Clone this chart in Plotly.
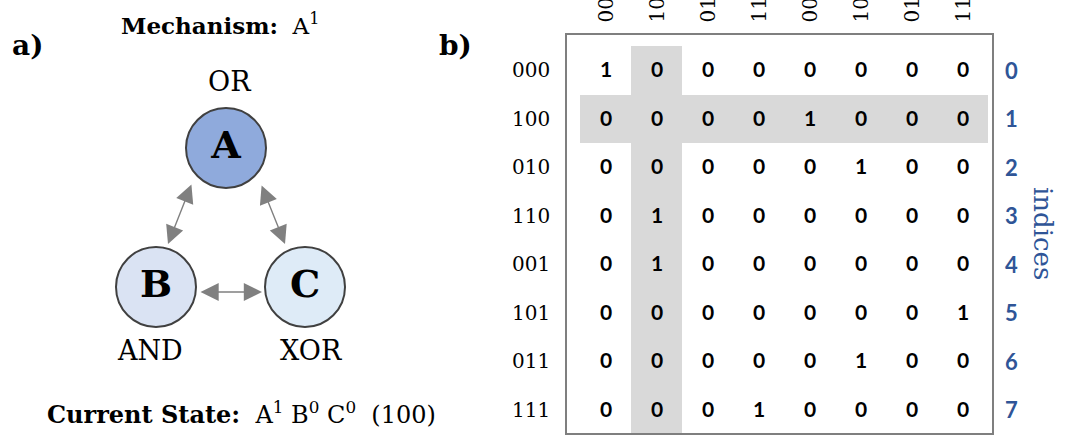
import plotly.graph_objects as go

# ---- data ----------------------------------------------------------------
states = ["000", "100", "010", "110", "001", "101", "011", "111"]
indices = ["0", "1", "2", "3", "4", "5", "6", "7"]
current_state = "100"
tpm = [
    [1, 0, 0, 0, 0, 0, 0, 0],
    [0, 0, 0, 0, 1, 0, 0, 0],
    [0, 0, 0, 0, 0, 1, 0, 0],
    [0, 1, 0, 0, 0, 0, 0, 0],
    [0, 1, 0, 0, 0, 0, 0, 0],
    [0, 0, 0, 0, 0, 0, 0, 1],
    [0, 0, 0, 0, 0, 1, 0, 0],
    [0, 0, 0, 1, 0, 0, 0, 0],
]
node_names = ["A", "B", "C"]
node_gates = ["OR", "AND", "XOR"]
node_colors = ["#8faadc", "#dae3f3", "#deebf7"]

W, H = 1076, 436
SERIF = "DejaVu Serif"
SANS = "Lato"
BLUE = "#2f5597"

n = len(states)
pos = list(range(n))
cur = states.index(current_state)
highlight = [[1 if (r == cur or c == cur) else 0 for c in pos] for r in pos]

fig = go.Figure()

# ---- panel b: transition matrix -------------------------------------------
fig.add_trace(go.Heatmap(
    x=pos, y=pos, z=highlight,
    text=[[str(v) for v in row] for row in tpm],
    texttemplate="%{text}",
    textfont=dict(family=SANS, size=21, color="black", weight="bold"),
    colorscale=[[0, "white"], [1, "#d9d9d9"]],
    zmin=0, zmax=1, showscale=False, hoverinfo="skip",
    xaxis="x", yaxis="y",
))

# ---- panel a: network nodes (pixel-space overlay axes) --------------------
node_px = {"A": (226, 148), "B": (156, 287), "C": (305, 287)}
gate_px = {"A": (229, 81), "B": (150, 350), "C": (311, 350)}
fig.add_trace(go.Scatter(
    x=[node_px[k][0] for k in node_names],
    y=[node_px[k][1] for k in node_names],
    mode="markers+text",
    text=node_names,
    textposition="middle center",
    textfont=dict(family=SERIF, size=38, color="black", weight="bold"),
    marker=dict(size=80, color=node_colors, line=dict(color="#404040", width=2)),
    hoverinfo="skip", cliponaxis=False,
    xaxis="x2", yaxis="y2",
))

ann = []
# gate labels
for k, g in zip(node_names, node_gates):
    gx, gy = gate_px[k]
    ann.append(dict(x=gx, y=gy, xref="x2", yref="y2", text=g, showarrow=False,
                    font=dict(family=SERIF, size=27, color="black")))

# bidirectional connections
edges = [((192, 183), (168, 244)), ((261, 184), (285, 244)), ((199, 292), (262, 292))]
for (x0, y0), (x1, y1) in edges:
    ann.append(dict(x=x1, y=y1, ax=x0, ay=y0, xref="x2", yref="y2",
                    axref="x2", ayref="y2", text="", showarrow=True,
                    arrowhead=2, startarrowhead=2, arrowside="end+start",
                    arrowsize=2.6, startarrowsize=2.6, arrowwidth=1.4,
                    arrowcolor="#808080", standoff=0, startstandoff=0))

# panel letters and captions
ann += [
    dict(x=27, y=45, xref="x2", yref="y2", text="<b>a)</b>", showarrow=False,
         font=dict(family=SERIF, size=28, color="black")),
    dict(x=455, y=45, xref="x2", yref="y2", text="<b>b)</b>", showarrow=False,
         font=dict(family=SERIF, size=28, color="black")),
    dict(x=220, y=24, xref="x2", yref="y2",
         text="<b>Mechanism:</b>&nbsp;&nbsp;A<sup>1</sup>", showarrow=False,
         font=dict(family=SERIF, size=23, color="black")),
    dict(x=241, y=413, xref="x2", yref="y2",
         text="<b>Current State:</b>&nbsp;&nbsp;A<sup>1</sup> B<sup>0</sup> C<sup>0</sup>&nbsp;&nbsp;(100)",
         showarrow=False, font=dict(family=SERIF, size=24, color="black")),
]

# row labels (left), column labels (top, rotated), indices (right)
for p, s in zip(pos, states):
    ann.append(dict(x=552 / W, y=p, xref="paper", yref="y", text=s,
                    xanchor="right", showarrow=False,
                    font=dict(family=SERIF, size=20, color="black")))
    ann.append(dict(x=p, y=1 - 25 / H, xref="x", yref="paper", text=s,
                    yanchor="bottom", textangle=-90, showarrow=False,
                    font=dict(family=SERIF, size=20, color="black")))
for p, i in zip(pos, indices):
    ann.append(dict(x=1020 / W, y=p, xref="paper", yref="y", text=i,
                    showarrow=False,
                    font=dict(family=SANS, size=22, color=BLUE, weight="bold")))
ann.append(dict(x=1060 / W, y=1 - 233 / H, xref="paper", yref="paper",
                text="indices", textangle=90, showarrow=False,
                font=dict(family=SERIF, size=26, color=BLUE)))

# frame around the matrix
shapes = [dict(type="rect", xref="paper", yref="paper",
               x0=566 / W, x1=993 / W, y0=1 - 434 / H, y1=1 - 34 / H,
               line=dict(color="#7f7f7f", width=2), fillcolor="rgba(0,0,0,0)",
               layer="above")]

fig.update_layout(
    width=W, height=H, autosize=False,
    margin=dict(l=0, r=0, t=0, b=0, pad=0),
    paper_bgcolor="white", plot_bgcolor="rgba(0,0,0,0)",
    showlegend=False,
    xaxis=dict(domain=[580 / W, 988 / W], range=[-0.5, n - 0.5], visible=False),
    yaxis=dict(domain=[1 - 434 / H, 1 - 46 / H], range=[n - 0.5, -0.5], visible=False),
    xaxis2=dict(domain=[0, 1], range=[0, W], visible=False, anchor="y2"),
    yaxis2=dict(domain=[0, 1], range=[H, 0], visible=False, anchor="x2"),
    annotations=ann, shapes=shapes,
)

fig.write_html("out.html")
